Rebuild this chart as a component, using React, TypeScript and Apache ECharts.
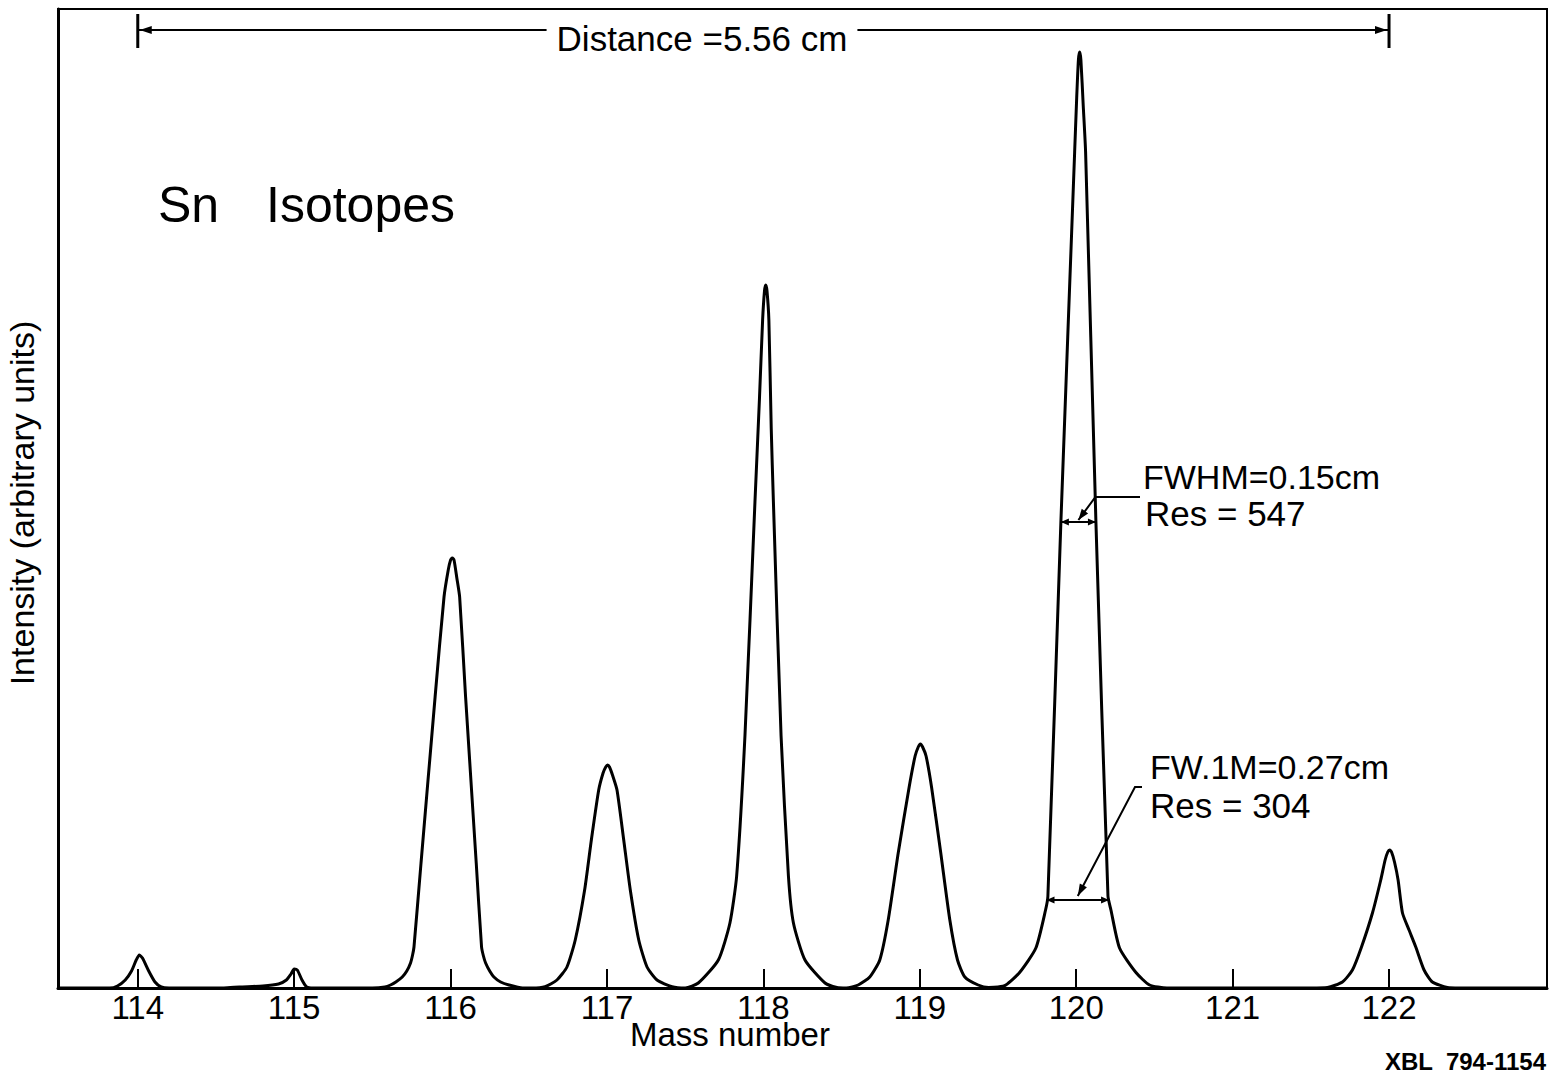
import React, { useEffect, useRef } from "react";
import * as echarts from "echarts";

// Mass-number axis
const massTicks: number[] = [114, 115, 116, 117, 118, 119, 120, 121, 122];
const massMin = 113.49;
const massMax = 123.01;
const intensityMax = 979;

// Trace: [mass number, intensity (arbitrary units)]
const peak114: [number, number][] = [
  [113.82, 0], [113.87, 2], [113.92, 8], [113.96, 17], [113.99, 28], [114.01, 33],
  [114.03, 30], [114.07, 17], [114.11, 6], [114.15, 1], [114.2, 0],
];
const peak115: [number, number][] = [
  [114.55, 0], [114.65, 1], [114.8, 2], [114.9, 4], [114.95, 8], [114.98, 14],
  [115.0, 19], [115.02, 18], [115.05, 8], [115.08, 1], [115.12, 0],
];
const peak116: [number, number][] = [
  [115.5, 0], [115.58, 1], [115.616, 3], [115.65, 6], [115.691, 11], [115.72, 17],
  [115.744, 25], [115.757, 33], [115.766, 41], [115.811, 125], [115.901, 291],
  [115.958, 391], [115.985, 418], [116.0, 428], [116.011, 430], [116.022, 428],
  [116.04, 410], [116.058, 391], [116.096, 291], [116.164, 125], [116.198, 41],
  [116.21, 32], [116.224, 25], [116.25, 17], [116.277, 11], [116.32, 6], [116.373, 3], [116.46, 0],
];
const peak117: [number, number][] = [
  [116.52, 0], [116.604, 1.3], [116.68, 8], [116.744, 21], [116.797, 48], [116.857, 98],
  [116.9, 148], [116.947, 198], [116.975, 215], [116.992, 221], [117.004, 223],
  [117.016, 221], [117.035, 213], [117.064, 198], [117.107, 148], [117.149, 98],
  [117.203, 48], [117.256, 21], [117.32, 8], [117.416, 1.3], [117.5, 0],
];
const peak118: [number, number][] = [
  [117.584, 5], [117.712, 28], [117.786, 65], [117.829, 112], [117.882, 252],
  [117.946, 486], [117.975, 590], [117.995, 668], [118.007, 697], [118.015, 703],
  [118.023, 697], [118.035, 668], [118.05, 560], [118.064, 486], [118.113, 252],
  [118.16, 112], [118.192, 65], [118.266, 28], [118.394, 5], [118.47, 0.5],
];
const peak119: [number, number][] = [
  [118.53, 0], [118.606, 3], [118.68, 11], [118.744, 28], [118.798, 68], [118.862, 135],
  [118.932, 201], [118.97, 232], [118.99, 241], [119.004, 244], [119.018, 241],
  [119.04, 232], [119.075, 201], [119.134, 135], [119.192, 68], [119.241, 28],
  [119.288, 11], [119.373, 3], [119.44, 0.5],
];
const peak120: [number, number][] = [
  [119.5, 1], [119.55, 3], [119.638, 15.5], [119.742, 40], [119.804, 78], [119.819, 92],
  [119.902, 466], [119.99, 836], [120.003, 890], [120.014, 928], [120.022, 936],
  [120.03, 928], [120.045, 882], [120.06, 836], [120.126, 466], [120.203, 92],
  [120.222, 78], [120.277, 40], [120.382, 15.5], [120.469, 3], [120.58, 0],
];
const peak122: [number, number][] = [
  [121.5, 0], [121.606, 0.5], [121.702, 6], [121.766, 18], [121.824, 41], [121.894, 75],
  [121.947, 108], [121.975, 128], [121.992, 136], [122.004, 138], [122.016, 136],
  [122.035, 126], [122.058, 108], [122.086, 75], [122.128, 58], [122.171, 41],
  [122.224, 18], [122.277, 6], [122.373, 0.5], [122.45, 0],
];

// Annotation values
const distanceRange: [number, number] = [114, 122];
const distanceLevel = 958;
const fwhmRange: [number, number] = [119.902, 120.126];
const fwhmLevel = 466;
const fw1mRange: [number, number] = [119.81, 120.21];
const fw1mLevel = 88;

const FONT = '"Liberation Sans", Arial, sans-serif';

function arrowHead(tip: number[], from: number[], len = 11, half = 4) {
  const dx = tip[0] - from[0];
  const dy = tip[1] - from[1];
  const d = Math.hypot(dx, dy) || 1;
  const ux = dx / d, uy = dy / d;
  const bx = tip[0] - ux * len, by = tip[1] - uy * len;
  return {
    type: "polygon",
    shape: { points: [[tip[0], tip[1]], [bx - uy * half, by + ux * half], [bx + uy * half, by - ux * half]] },
    style: { fill: "#000" },
    z: 20,
  };
}

function txt(text: string, x: number, y: number, size: number, align = "left", extra: any = {}, weight = "normal") {
  return {
    type: "text",
    z: 30,
    style: {
      text, x, y, fill: "#000",
      font: `${weight} ${size}px ${FONT}`,
      textAlign: align,
      textVerticalAlign: "middle",
      verticalAlign: "middle",
      ...extra,
    },
  };
}

export default function App() {
  const ref = useRef<HTMLDivElement>(null);
  useEffect(() => {
    if (!ref.current) return;
    const chart = echarts.init(ref.current, undefined, { renderer: "svg" });
    const trace: [number, number][] = [
      [massMin, 0], ...peak114, ...peak115, ...peak116, ...peak117, ...peak118,
      ...peak119, ...peak120, ...peak122, [massMax, 0],
    ];
    chart.setOption({
      animation: false,
      backgroundColor: "#fff",
      grid: { left: 58, top: 9, right: 2, bottom: 85, show: true, borderColor: "#000", borderWidth: 2, containLabel: false },
      xAxis: {
        type: "value",
        min: massMin,
        max: massMax,
        axisLine: { show: true, lineStyle: { color: "#000", width: 3 } },
        axisTick: { show: true, inside: true, length: 19, customValues: massTicks, lineStyle: { color: "#000", width: 2 } },
        axisLabel: {
          show: true, customValues: massTicks, margin: 3, color: "#000",
          fontFamily: FONT, fontSize: 33, formatter: (v: number) => String(Math.round(v)),
        },
        splitLine: { show: false },
      },
      yAxis: {
        type: "value",
        min: 0,
        max: intensityMax,
        axisLine: { show: true, lineStyle: { color: "#000", width: 3 } },
        axisTick: { show: false },
        axisLabel: { show: false },
        splitLine: { show: false },
      },
      series: [
        {
          type: "line",
          data: trace,
          showSymbol: false,
          smooth: 0.2,
          lineStyle: { color: "#000", width: 3 },
          z: 5,
        },
      ],
    });

    const px = (m: number, h: number) => chart.convertToPixel({ gridIndex: 0 }, [m, h]) as number[];

    const dL = px(distanceRange[0], distanceLevel);
    const dR = px(distanceRange[1], distanceLevel);
    const hL = px(fwhmRange[0], fwhmLevel);
    const hR = px(fwhmRange[1], fwhmLevel);
    const tL = px(fw1mRange[0], fw1mLevel);
    const tR = px(fw1mRange[1], fw1mLevel);

    const hTip = [(hL[0] + hR[0]) / 2, hL[1] - 2];
    const hCorner = [hTip[0] + 17, hL[1] - 25];
    const tTip = [(tL[0] + tR[0]) / 2, tL[1] - 4];
    const tCorner = [1135, 787];

    const lineStyle = { stroke: "#000", lineWidth: 2 };

    const graphic: any[] = [
      // Distance dimension line
      { type: "line", z: 20, shape: { x1: dL[0], y1: dL[1], x2: dR[0], y2: dR[1] }, style: lineStyle },
      { type: "line", z: 20, shape: { x1: dL[0], y1: dL[1] - 16, x2: dL[0], y2: dL[1] + 18 }, style: { stroke: "#000", lineWidth: 3 } },
      { type: "line", z: 20, shape: { x1: dR[0], y1: dR[1] - 16, x2: dR[0], y2: dR[1] + 18 }, style: { stroke: "#000", lineWidth: 3 } },
      arrowHead([dL[0] + 2, dL[1]], [dL[0] + 20, dL[1]], 12, 4),
      arrowHead([dR[0] - 2, dR[1]], [dR[0] - 20, dR[1]], 12, 4),
      txt("Distance =5.56 cm", 702, 38, 35, "center", { backgroundColor: "#fff", padding: [0, 10] }),

      // Title
      txt("Sn", 158, 205, 50),
      txt("Isotopes", 266, 205, 50),

      // FWHM
      { type: "line", z: 20, shape: { x1: hL[0], y1: hL[1], x2: hR[0], y2: hR[1] }, style: lineStyle },
      arrowHead([hL[0], hL[1]], [hL[0] + 10, hL[1]], 8, 3.5),
      arrowHead([hR[0], hR[1]], [hR[0] - 10, hR[1]], 8, 3.5),
      { type: "polyline", z: 20, shape: { points: [[1140, hCorner[1]], hCorner, hTip] }, style: { ...lineStyle, fill: null } },
      arrowHead(hTip, hCorner, 11, 4),
      txt("FWHM=0.15cm", 1143, 477, 34),
      txt("Res = 547", 1145, 513, 35),

      // FW.1M
      { type: "line", z: 20, shape: { x1: tL[0], y1: tL[1], x2: tR[0], y2: tR[1] }, style: lineStyle },
      arrowHead([tL[0], tL[1]], [tL[0] + 10, tL[1]], 8, 3.5),
      arrowHead([tR[0], tR[1]], [tR[0] - 10, tR[1]], 8, 3.5),
      { type: "polyline", z: 20, shape: { points: [[1142, tCorner[1]], tCorner, tTip] }, style: { ...lineStyle, fill: null } },
      arrowHead(tTip, tCorner, 12, 4),
      txt("FW.1M=0.27cm", 1150, 767, 34),
      txt("Res = 304", 1150, 805, 35),

      // Axis titles
      txt("Mass number", 630, 1034, 33),
      {
        type: "text", z: 30, x: 22, y: 503, rotation: Math.PI / 2,
        style: { text: "Intensity (arbitrary units)", x: 0, y: 0, fill: "#000", font: `normal 34px ${FONT}`, textAlign: "center", textVerticalAlign: "middle", verticalAlign: "middle" },
      },
      txt("XBL  794-1154", 1385, 1061, 24, "left", {}, "bold"),
    ];
    chart.setOption({ graphic });

    return () => chart.dispose();
  }, []);

  return (
    <div
      ref={ref}
      style={{ position: "fixed", left: 0, top: 0, width: 1549, height: 1073, background: "#fff" }}
    />
  );
}
